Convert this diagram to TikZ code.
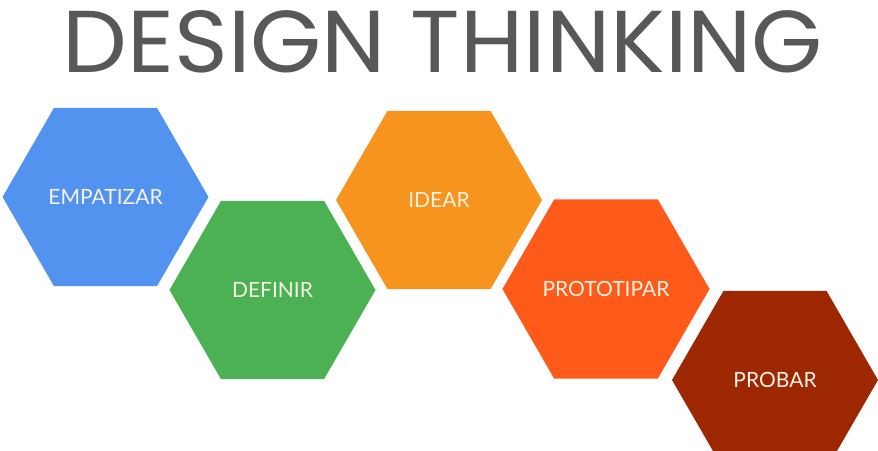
\documentclass[tikz,border=0pt]{standalone}
\usepackage{fontspec}
\newfontfamily\titlefont{Poppins}
\newfontfamily\labelfont{Lato}
\usepackage{tikz}
\usetikzlibrary{shapes,positioning}
\usepackage{xcolor}
\definecolor{dtgray}{RGB}{88,88,88}
\definecolor{dtblue}{RGB}{83,147,240}
\definecolor{dtgreen}{RGB}{75,177,83}
\definecolor{dtorange}{RGB}{247,148,29}
\definecolor{dtred}{RGB}{254,90,25}
\definecolor{dtbrown}{RGB}{156,39,0}
\definecolor{dttext}{RGB}{246,242,228}
\tikzstyle{phase} = [regular polygon, regular polygon sides=6, minimum size=206pt, inner sep=0pt, outer sep=0pt, text=dttext, font=\labelfont\fontsize{21}{25}\selectfont]

\begin{document}
\begin{tikzpicture}[x=1pt, y=-1pt]
    \useasboundingbox (0,0) rectangle (878,450);

    % Title
    \node[anchor=base west, inner sep=0pt, text=dtgray] (title) at (62.7,72.7) {\resizebox{760pt}{62pt}{\titlefont DESIGN THINKING}};

    % Upper row
    \node[phase, fill=dtblue] (empatizar) at (105.5,197) {EMPATIZAR};
    \node[phase, fill=dtorange] (idear) at (439,200) {IDEAR};

    % Middle row
    \node[phase, fill=dtgreen] (definir) at (272.5,290) {DEFINIR};
    \node[phase, fill=dtred] (prototipar) at (606,289) {PROTOTIPAR};

    % Last step
    \node[phase, fill=dtbrown] (probar) at (775,380) {PROBAR};
\end{tikzpicture}
\end{document}
